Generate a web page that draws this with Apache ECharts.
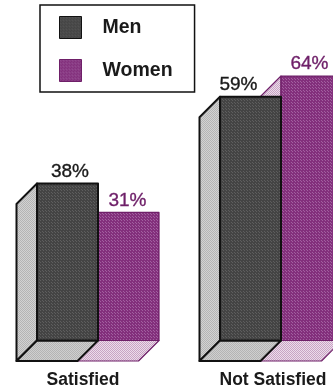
<!DOCTYPE html>
<html>
<head>
<meta charset="utf-8">
<style>html,body{margin:0;padding:0;background:#fff;overflow:hidden}#chart{width:333px;height:388px}</style>
<script src="https://cdn.jsdelivr.net/npm/echarts@6/dist/echarts.min.js"></script>
</head>
<body>
<div id="chart"></div>
<script>
const categories = ['Satisfied', 'Not Satisfied'];
const men = [38, 59];
const women = [31, 64];

const FONT = '"Liberation Sans", Arial, sans-serif';
const DEPTH = 20.5;
const BAR_WIDTH = 61;

// Small halftone tile used to give the faces their printed screen look.
function halftone(base, dot, size) {
  const c = document.createElement('canvas');
  c.width = c.height = size;
  const g = c.getContext('2d');
  g.fillStyle = base;
  g.fillRect(0, 0, size, size);
  g.fillStyle = dot;
  g.fillRect(0, 0, 1, 1);
  g.fillRect(size >> 1, size >> 1, 1, 1);
  return { image: c, repeat: 'repeat' };
}

const palette = {
  Men: {
    front: halftone('#444444', '#5e5e5e', 3),
    side: halftone('#d2d2d2', '#b4b4b4', 2),
    floor: halftone('#cfcfcf', '#b4b4b4', 2),
    line: '#111111', lineWidth: 2, text: '#1a1a1a', offset: -BAR_WIDTH
  },
  Women: {
    front: halftone('#83307c', '#a260a0', 3),
    side: halftone('#ecdcea', '#c8a4c4', 2),
    floor: halftone('#ecdcea', '#c8a4c4', 2),
    line: '#6e1f68', lineWidth: 1.2, text: '#6e1f68', offset: 0
  }
};

// Draws one box: left wall, floor, back face and the percent label above it.
function boxRenderer(name, labelNudge) {
  const look = palette[name];
  return function (params, api) {
    const i = api.value(0);
    const v = api.value(1);
    const top = api.coord([i, v]);
    const base = api.coord([i, 0]);
    const xL = base[0] + look.offset;
    const xR = xL + BAR_WIDTH;
    const yT = top[1], yB = base[1];
    const stroke = { stroke: look.line, lineWidth: look.lineWidth, lineJoin: 'round' };
    return {
      type: 'group',
      children: [
        { type: 'polygon',
          shape: { points: [[xL, yT], [xL - DEPTH, yT + DEPTH], [xL - DEPTH, yB + DEPTH], [xL, yB]] },
          style: Object.assign({ fill: look.side }, stroke) },
        { type: 'polygon',
          shape: { points: [[xL, yB], [xR, yB], [xR - DEPTH, yB + DEPTH], [xL - DEPTH, yB + DEPTH]] },
          style: Object.assign({ fill: look.floor }, stroke) },
        { type: 'rect',
          shape: { x: xL, y: yT, width: BAR_WIDTH, height: yB - yT },
          style: Object.assign({ fill: look.front }, stroke) },
        { type: 'text',
          style: { x: (xL + xR) / 2 + labelNudge[i], y: yT - 12, text: v + '%', fill: look.text,
            stroke: look.text, lineWidth: 0.35,
            font: '19px ' + FONT, align: 'center', verticalAlign: 'middle' } }
      ]
    };
  };
}

const chart = echarts.init(document.getElementById('chart'), null, { renderer: 'canvas' });
chart.setOption({
  animation: false,
  backgroundColor: '#ffffff',
  legend: {
    left: 40, top: 5, orient: 'vertical',
    padding: [11, 22, 10, 19],
    itemWidth: 22, itemHeight: 22, itemGap: 20,
    borderColor: '#111111', borderWidth: 1.5,
    selectedMode: false,
    textStyle: { fontFamily: FONT, fontWeight: 'bold', fontSize: 19.5, color: '#1a1a1a', padding: [1, 0, 0, 16] },
    data: [
      { name: 'Men', icon: 'rect', itemStyle: { color: palette.Men.front, borderColor: '#111', borderWidth: 1 } },
      { name: 'Women', icon: 'rect', itemStyle: { color: palette.Women.front, borderColor: '#6e1f68', borderWidth: 1 } }
    ]
  },
  grid: { left: 6.5, width: 366, top: 0, height: 340.5, outerBoundsMode: 'none', containLabel: false },
  xAxis: {
    type: 'category', data: categories,
    axisLine: { show: false }, axisTick: { show: false },
    axisLabel: {
      interval: 0, margin: 30.5,
      formatter: function (v) { return '{' + (v === 'Satisfied' ? 'a' : 'b') + '|' + v + '}'; },
      rich: {
        a: { fontFamily: FONT, fontWeight: 'bold', fontSize: 17.5, color: '#1a1a1a', padding: [0, 30, 0, 0] },
        b: { fontFamily: FONT, fontWeight: 'bold', fontSize: 17.5, color: '#1a1a1a', padding: [0, 16, 0, 0] }
      }
    }
  },
  yAxis: { type: 'value', min: 0, max: 82.4, show: false, splitLine: { show: false } },
  series: [
    { name: 'Women', type: 'custom', clip: false, coordinateSystem: 'cartesian2d',
      itemStyle: { color: '#83307c' }, encode: { x: 0, y: 1 },
      renderItem: boxRenderer('Women', [-1, -2]), data: women.map((v, i) => [i, v]) },
    { name: 'Men', type: 'custom', clip: false, coordinateSystem: 'cartesian2d',
      itemStyle: { color: '#444444' }, encode: { x: 0, y: 1 },
      renderItem: boxRenderer('Men', [2.5, -12]), data: men.map((v, i) => [i, v]) }
  ]
});
</script>
</body>
</html>
